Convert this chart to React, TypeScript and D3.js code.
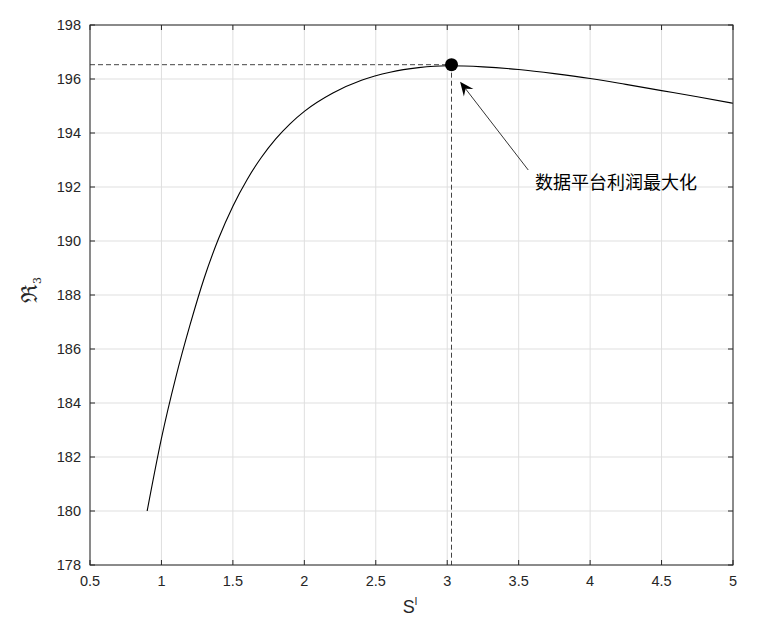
import React from "react";
import * as d3 from "d3";

const sValues = [0.9, 1.0, 1.1, 1.2, 1.3, 1.4, 1.5, 1.6, 1.7, 1.8, 1.9, 2.0, 2.2, 2.4, 2.6, 2.8, 3.0, 3.25, 3.5, 3.75, 4.0, 4.25, 4.5, 4.75, 5.0];
const rValues = [180.0, 182.69, 184.94, 186.89, 188.64, 190.09, 191.29, 192.28, 193.1, 193.78, 194.34, 194.8, 195.48, 195.95, 196.25, 196.42, 196.49, 196.45, 196.35, 196.2, 196.02, 195.8, 195.57, 195.34, 195.1];

const xTicks = [0.5, 1, 1.5, 2, 2.5, 3, 3.5, 4, 4.5, 5];
const yTicks = [178, 180, 182, 184, 186, 188, 190, 192, 194, 196, 198];

const peakPoint = { s: 3.03, r: 196.53 };
const annotationText = "数据平台利润最大化";
const arrowTail = { s: 3.567, r: 192.63 };
const arrowTip = { s: 3.09, r: 195.9 };
const textAnchorPt = { s: 3.615, r: 191.93 };

const W = 782;
const H = 628;
const M = { left: 90, right: 733, top: 25, bottom: 565 };
const FONT = "'Liberation Sans', Arial, Helvetica, sans-serif";
const AX = "#262626";

export default function App() {
  const x = d3.scaleLinear().domain([0.5, 5]).range([M.left, M.right]);
  const y = d3.scaleLinear().domain([178, 198]).range([M.bottom, M.top]);
  const pts = sValues.map((s, i) => [s, rValues[i]] as [number, number]);
  const line = d3
    .line<[number, number]>()
    .x((d) => x(d[0]))
    .y((d) => y(d[1]))
    .curve(d3.curveMonotoneX);

  const px = x(peakPoint.s);
  const py = y(peakPoint.r);

  const tx = x(arrowTip.s), ty = y(arrowTip.r);
  const bx = x(arrowTail.s), by = y(arrowTail.r);
  const ang = Math.atan2(ty - by, tx - bx);
  const L = 14, Wd = 6, ind = 9;
  const rot = (dx: number, dy: number) => [
    tx + dx * Math.cos(ang) - dy * Math.sin(ang),
    ty + dx * Math.sin(ang) + dy * Math.cos(ang),
  ];
  const h1 = rot(-L, -Wd), h2 = rot(-ind, 0), h3 = rot(-L, Wd);
  const lineEnd = rot(-ind, 0);

  const tick = 5;
  return (
    <svg width={W} height={H} style={{ position: "absolute", left: 0, top: 0, background: "#fff" }}>
      <rect x={0} y={0} width={W} height={H} fill="#fff" />
      {xTicks.map((t) => (
        <line key={"gx" + t} x1={x(t)} x2={x(t)} y1={M.top} y2={M.bottom} stroke="#dfdfdf" strokeWidth={1} />
      ))}
      {yTicks.map((t) => (
        <line key={"gy" + t} x1={M.left} x2={M.right} y1={y(t)} y2={y(t)} stroke="#dfdfdf" strokeWidth={1} />
      ))}
      <line x1={M.left} x2={px} y1={py} y2={py} stroke="#444" strokeWidth={1} strokeDasharray="5,3" />
      <line x1={px} x2={px} y1={py} y2={M.bottom} stroke="#444" strokeWidth={1} strokeDasharray="5,3" />
      <path d={line(pts) || ""} fill="none" stroke="#000" strokeWidth={1.1} />
      <circle cx={px} cy={py} r={6.5} fill="#000" />
      <line x1={bx} y1={by} x2={lineEnd[0]} y2={lineEnd[1]} stroke="#000" strokeWidth={0.8} />
      <path d={`M${tx},${ty}L${h1[0]},${h1[1]}L${h2[0]},${h2[1]}L${h3[0]},${h3[1]}Z`} fill="#000" />
      <text x={x(textAnchorPt.s)} y={y(textAnchorPt.r)} fontSize={18} fontFamily="'Noto Sans CJK SC', sans-serif" fill="#000">
        {annotationText}
      </text>
      <rect x={M.left} y={M.top} width={M.right - M.left} height={M.bottom - M.top} fill="none" stroke={AX} strokeWidth={1} />
      {xTicks.map((t) => (
        <g key={"tx" + t}>
          <line x1={x(t)} x2={x(t)} y1={M.bottom} y2={M.bottom - tick} stroke={AX} />
          <line x1={x(t)} x2={x(t)} y1={M.top} y2={M.top + tick} stroke={AX} />
          <text x={x(t)} y={586} textAnchor="middle" fontSize={14.5} fontFamily={FONT} fill={AX}>
            {t}
          </text>
        </g>
      ))}
      {yTicks.map((t) => (
        <g key={"ty" + t}>
          <line x1={M.left} x2={M.left + tick} y1={y(t)} y2={y(t)} stroke={AX} />
          <line x1={M.right} x2={M.right - tick} y1={y(t)} y2={y(t)} stroke={AX} />
          <text x={81} y={y(t) + 5} textAnchor="end" fontSize={14.5} fontFamily={FONT} fill={AX}>
            {t}
          </text>
        </g>
      ))}
      <text x={410} y={613} textAnchor="middle" fontSize={18} fontFamily={FONT} fill={AX}>
        S<tspan fontSize={11} dy={-8}>l</tspan>
      </text>
      <text transform="translate(37,290) rotate(-90)" textAnchor="middle" fontSize={22} fontFamily="'DejaVu Serif', serif" fill={AX}>
        ℜ<tspan fontSize={11} dy={4}>3</tspan>
      </text>
    </svg>
  );
}
